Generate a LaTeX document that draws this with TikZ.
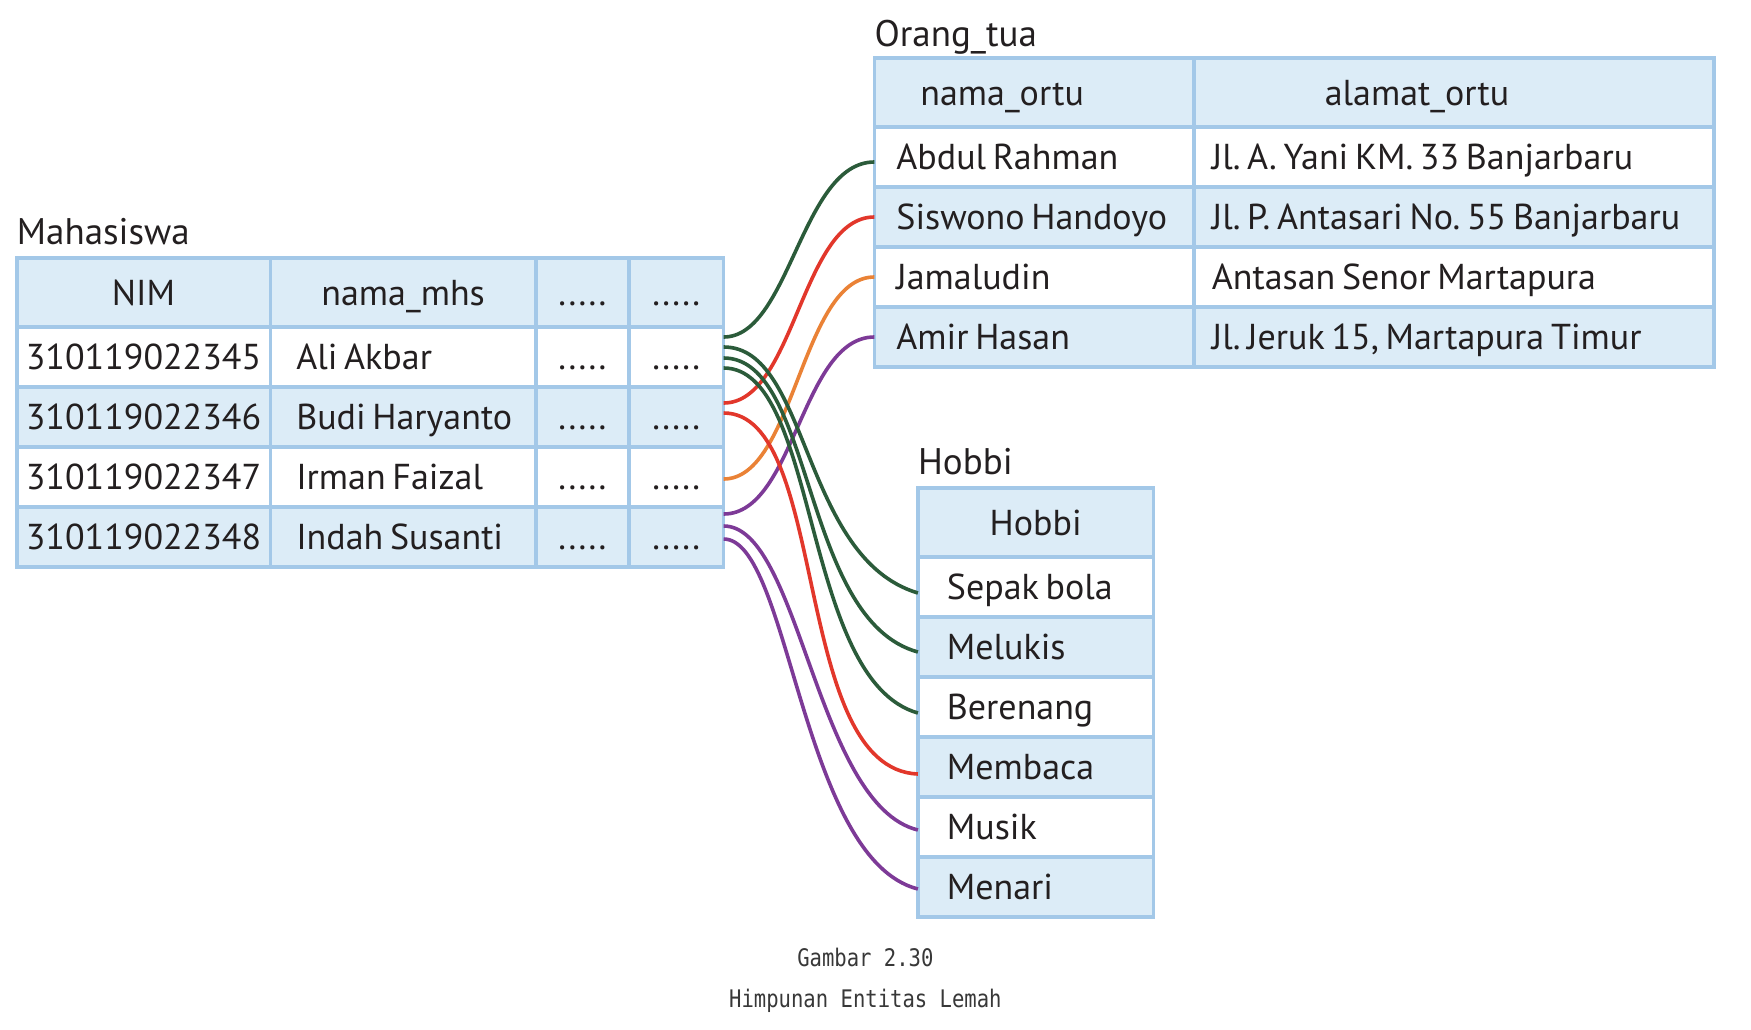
\documentclass[tikz,border=0pt]{standalone}
\usepackage{fontspec}
\setmainfont[WordSpace=0.7]{PT Sans}
\newfontfamily\capfont[FakeStretch=0.85]{DejaVu Sans Mono}
\usetikzlibrary{positioning}
\frenchspacing

\definecolor{tblline}{HTML}{A3C8E8}
\definecolor{tblfill}{HTML}{DCECF7}
\definecolor{inkgray}{HTML}{231F20}
\definecolor{capgray}{HTML}{383838}
\definecolor{lnkgreen}{HTML}{2B5B3A}
\definecolor{lnkred}{HTML}{E2372B}
\definecolor{lnkorange}{HTML}{EA8236}
\definecolor{lnkpurple}{HTML}{7D3A97}

\begin{document}
\begin{tikzpicture}[
    x=1pt, y=-1pt,
    font=\fontsize{36}{42}\selectfont,
    node distance=0pt,
    cell/.style={
        rectangle, draw=tblline, line width=3.5pt, outer sep=0pt, inner sep=0pt,
        minimum height=60pt, text height=33pt, text depth=8pt, text=inkgray
    },
    head/.style={cell, fill=tblfill, minimum height=69pt},
    odd/.style={cell, fill=white},
    even/.style={cell, fill=tblfill},
    lefttext/.style={execute at begin node={\hbox to #1\bgroup}, execute at end node={\hss\egroup}},
    nimcol/.style={minimum width=253.5pt},
    namacol/.style={minimum width=265.8pt, inner xsep=26pt, lefttext=213.8pt},
    dotacol/.style={minimum width=92.7pt},
    dotbcol/.style={minimum width=94.9pt},
    ortucol/.style={minimum width=319.4pt, inner xsep=22pt, lefttext=275.4pt},
    alamatcol/.style={minimum width=520.3pt, inner xsep=18pt, lefttext=484.3pt},
    hobbicol/.style={minimum width=235.6pt, inner xsep=29pt, lefttext=177.6pt},
    title/.style={anchor=base west, text=inkgray, inner sep=0pt, font=\fontsize{37}{42}\selectfont},
    caption/.style={font=\capfont\fontsize{24.2}{28}\selectfont, text=capgray, inner sep=0pt, anchor=base},
    link/.style={line width=3.6pt}
    ]
    \path[use as bounding box, fill=white] (0,0) rectangle (1751,1029);

    % Mahasiswa
    \node[head, nimcol, anchor=north west] (nimH) at (16.75,258) {NIM};
    \node[head, minimum width=265.8pt, right=of nimH] (namaH) {nama\_mhs};
    \node[head, dotacol, right=of namaH] (dotaH) {.....};
    \node[head, dotbcol, right=of dotaH] (dotbH) {.....};
    \node[title] (mhsTitle) at ([yshift=14pt]nimH.north west) {Mahasiswa};

    \node[odd, nimcol, below=of nimH] (nim1) {310119022345};
    \node[odd, namacol, right=of nim1] (nama1) {Ali Akbar};
    \node[odd, dotacol, right=of nama1] (dota1) {.....};
    \node[odd, dotbcol, right=of dota1] (dotb1) {.....};

    \node[even, nimcol, below=of nim1] (nim2) {310119022346};
    \node[even, namacol, right=of nim2] (nama2) {Budi Haryanto};
    \node[even, dotacol, right=of nama2] (dota2) {.....};
    \node[even, dotbcol, right=of dota2] (dotb2) {.....};

    \node[odd, nimcol, below=of nim2] (nim3) {310119022347};
    \node[odd, namacol, right=of nim3] (nama3) {Irman Faizal};
    \node[odd, dotacol, right=of nama3] (dota3) {.....};
    \node[odd, dotbcol, right=of dota3] (dotb3) {.....};

    \node[even, nimcol, below=of nim3] (nim4) {310119022348};
    \node[even, namacol, right=of nim4] (nama4) {Indah Susanti};
    \node[even, dotacol, right=of nama4] (dota4) {.....};
    \node[even, dotbcol, right=of dota4] (dotb4) {.....};

    % Orang_tua
    \node[head, ortucol, anchor=north west] (ortuH) at (874.4,58) {\hspace*{24pt}nama\_ortu};
    \node[head, alamatcol, right=of ortuH] (alamatH) {\hspace*{113pt}alamat\_ortu};
    \node[title] (ortuTitle) at ([yshift=12pt]ortuH.north west) {Orang\_tua};

    \node[odd, ortucol, below=of ortuH] (ortu1) {Abdul Rahman};
    \node[odd, alamatcol, right=of ortu1] (alamat1) {Jl. A. Yani KM. 33 Banjarbaru};
    \node[even, ortucol, below=of ortu1] (ortu2) {Siswono Handoyo};
    \node[even, alamatcol, right=of ortu2] (alamat2) {Jl. P. Antasari No. 55 Banjarbaru};
    \node[odd, ortucol, below=of ortu2] (ortu3) {Jamaludin};
    \node[odd, alamatcol, right=of ortu3] (alamat3) {Antasan Senor Martapura};
    \node[even, ortucol, below=of ortu3] (ortu4) {Amir Hasan};
    \node[even, alamatcol, right=of ortu4] (alamat4) {Jl. Jeruk 15, Martapura Timur};

    % Hobbi
    \node[head, minimum width=235.6pt, anchor=north west] (hobbiH) at (917.9,488) {Hobbi};
    \node[title] (hobbiTitle) at ([yshift=14pt]hobbiH.north west) {Hobbi};
    \node[odd, hobbicol, below=of hobbiH] (hobbi1) {Sepak bola};
    \node[even, hobbicol, below=of hobbi1] (hobbi2) {Melukis};
    \node[odd, hobbicol, below=of hobbi2] (hobbi3) {Berenang};
    \node[even, hobbicol, below=of hobbi3] (hobbi4) {Membaca};
    \node[odd, hobbicol, below=of hobbi4] (hobbi5) {Musik};
    \node[even, hobbicol, below=of hobbi5] (hobbi6) {Menari};

    % links to Orang_tua
    \draw[link, lnkgreen] ([yshift=20pt]dotb1.east) .. controls +(66,0) and +(-73,0) .. ([yshift=-5pt]ortu1.west);
    \draw[link, lnkred] ([yshift=14pt]dotb2.east) .. controls +(71,0) and +(-73,0) .. (ortu2.west);
    \draw[link, lnkorange] ([yshift=-2pt]dotb3.east) .. controls +(71,0) and +(-73,0) .. (ortu3.west);
    \draw[link, lnkpurple] ([yshift=23pt]dotb4.east) .. controls +(71,0) and +(-73,0) .. (ortu4.west);

    % links to Hobbi
    \draw[link, lnkgreen] ([yshift=10pt]dotb1.east) .. controls +(86,0) and +(-117,-35) .. ([yshift=-6pt]hobbi1.west);
    \draw[link, lnkgreen] ([yshift=-1pt]dotb1.east) .. controls +(91,0) and +(-117,-32) .. ([yshift=-5pt]hobbi2.west);
    \draw[link, lnkgreen] ([yshift=-11pt]dotb1.east) .. controls +(96,0) and +(-117,-33) .. ([yshift=-6pt]hobbi3.west);
    \draw[link, lnkred] ([yshift=4pt]dotb2.east) .. controls +(106,0) and +(-127,-5) .. ([yshift=-7pt]hobbi4.west);
    \draw[link, lnkpurple] ([yshift=11pt]dotb4.east) .. controls +(76,0) and +(-102,-25) .. ([yshift=-3pt]hobbi5.west);
    \draw[link, lnkpurple] ([yshift=-2pt]dotb4.east) .. controls +(66,0) and +(-117,-30) .. ([yshift=-2pt]hobbi6.west);

    % caption
    \node[caption] (capNum) at (865.4,966) {Gambar 2.30};
    \node[caption] (capText) at (865.4,1007) {Himpunan Entitas Lemah};
\end{tikzpicture}
\end{document}
